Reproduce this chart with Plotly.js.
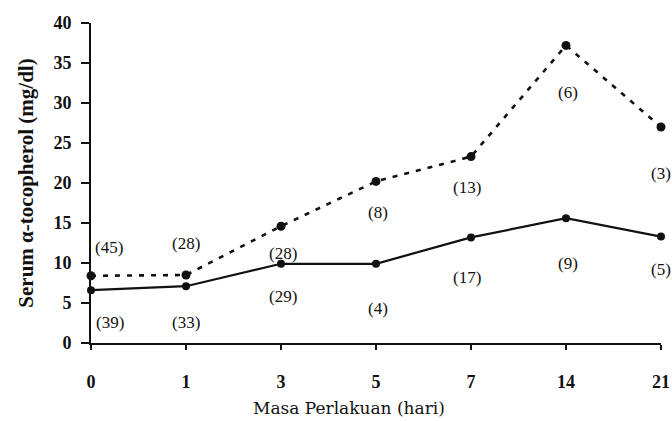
<!DOCTYPE html>
<html>
<head>
<meta charset="utf-8">
<script src="https://cdn.plot.ly/plotly-3.0.1.min.js"></script>
<style>html,body{margin:0;padding:0;background:#fff}#chart{width:672px;height:421px}</style>
</head>
<body>
<div id="chart"></div>
<script>
// ---- data ----
const days = ["0", "1", "3", "5", "7", "14", "21"];
const dashedValues = [8.4, 8.5, 14.6, 20.2, 23.3, 37.2, 27.0];
const solidValues = [6.6, 7.1, 9.9, 9.9, 13.2, 15.6, 13.3];
const dashedN = ["(45)", "(28)", "(28)", "(8)", "(13)", "(6)", "(3)"];
const solidN = ["(39)", "(33)", "(29)", "(4)", "(17)", "(9)", "(5)"];
const yTicks = [0, 5, 10, 15, 20, 25, 30, 35, 40];

// ---- label placement (pixels) ----
const dashedLabelDy = [28, 32, -27, -31, -31, -47, -46];
const dashedLabelDx = [18, 0, 2, 2, -4, 2, 0];
const solidLabelDy = [-32, -36, -33, -45, -40, -45, -33];
const solidLabelDx = [19, 0, 2, 2, -4, 2, 0];

const serif = "Liberation Serif, Times New Roman, serif";

const traces = [
  {
    x: days, y: dashedValues, type: "scatter", mode: "lines+markers",
    line: {color: "#111", width: 2.6, dash: "5px,7px"},
    marker: {color: "#111", size: 9},
    cliponaxis: false, showlegend: false
  },
  {
    x: days, y: solidValues, type: "scatter", mode: "lines+markers",
    line: {color: "#111", width: 2.2},
    marker: {color: "#111", size: 8},
    cliponaxis: false, showlegend: false
  }
];

const annotations = [];
days.forEach((d, i) => {
  // category axes take the category index for annotation positions
  annotations.push({x: i, y: dashedValues[i], xref: "x", yref: "y", text: dashedN[i],
    showarrow: false, xshift: dashedLabelDx[i], yshift: dashedLabelDy[i],
    font: {family: serif, size: 17, color: "#111"}});
  annotations.push({x: i, y: solidValues[i], xref: "x", yref: "y", text: solidN[i],
    showarrow: false, xshift: solidLabelDx[i], yshift: solidLabelDy[i],
    font: {family: serif, size: 17, color: "#111"}});
});
const L = 91, R = 11, T = 23, B = 78, W = 672, H = 421;
annotations.push({
  x: (349 - L) / (W - L - R), y: (H - B - 408) / (H - T - B),
  xref: "paper", yref: "paper", yanchor: "middle", text: "Masa Perlakuan (hari)",
  showarrow: false, font: {family: "DejaVu Serif, serif", size: 17, color: "#111"}});

const layout = {
  width: W, height: H,
  margin: {l: L, r: R, t: T, b: B, pad: 0},
  paper_bgcolor: "#fff", plot_bgcolor: "rgba(0,0,0,0)",
  xaxis: {
    type: "category", range: [0, 6], showgrid: false, zeroline: false,
    showline: true, linecolor: "#111", linewidth: 2,
    ticks: "outside", ticklen: 5, tickwidth: 1.5, tickcolor: "#111",
    ticklabelstandoff: 16,
    tickfont: {family: serif, size: 18, color: "#111", weight: "bold"}
  },
  yaxis: {
    range: [0, 40], tickvals: yTicks, showgrid: false, zeroline: false,
    showline: true, linecolor: "#111", linewidth: 2,
    ticks: "outside", ticklen: 8, tickwidth: 1.5, tickcolor: "#111",
    ticklabelstandoff: 6,
    tickfont: {family: serif, size: 18, color: "#111", weight: "bold"},
    title: {text: "Serum α-tocopherol (mg/dl)", standoff: 14,
      font: {family: serif, size: 21, color: "#111", weight: "bold"}}
  },
  annotations: annotations
};

Plotly.newPlot("chart", traces, layout, {displayModeBar: false, staticPlot: true});
</script>
</body>
</html>
